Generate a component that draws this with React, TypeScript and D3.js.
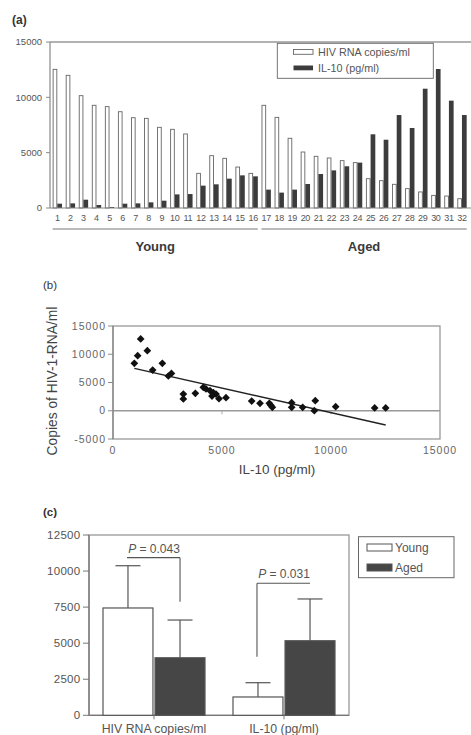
import React from "react";
import * as d3 from "d3";

// ---------- Panel (a) data ----------
const patients = d3.range(1, 33).map(String);
const hivRna = [12530, 11990, 10150, 9280, 9160, 8700, 8160, 8100, 7290, 7110, 6690, 3130, 4730, 4490, 3700, 3130,
  9280, 8190, 6300, 5060, 4670, 4520, 4280, 4100, 2650, 2470, 2140, 1750, 1450, 1140, 1080, 840];
const il10 = [390, 420, 750, 270, 90, 390, 420, 510, 660, 1230, 1260, 2020, 2140, 2650, 2950, 2860,
  1660, 1390, 1660, 2170, 3070, 3400, 3770, 4100, 6660, 6170, 8400, 7230, 10780, 12560, 9700, 8400];
const seriesA = ["HIV RNA copies/ml", "IL-10 (pg/ml)"];
const ticksA = [0, 5000, 10000, 15000];
const groupsA = [
  { name: "Young", from: "1", to: "16" },
  { name: "Aged", from: "17", to: "32" },
];

// ---------- Panel (b) data ----------
const scatterIL10 = [979, 1131, 1270, 1575, 1819, 2263, 2538, 2680, 3226, 3226, 3777, 4144, 4266, 4450, 4602, 4541,
  4725, 4862, 5183, 6361, 6743, 7171, 7240, 7309, 8196, 8196, 8700, 9279, 9234, 10214, 12003, 12508];
const scatterHIV = [8390, 9750, 12700, 10630, 7210, 8390, 6150, 6600, 2960, 2080, 3080, 4150, 3850, 3550, 3200, 2610,
  2960, 2140, 2320, 1720, 1310, 1310, 960, 610, 1430, 610, 610, 1780, 10, 720, 490, 490];
const trendX = [979, 12508];
const trendY = [7510, -2520];
const ticksBX = [0, 5000, 10000, 15000];
const ticksBY = [-5000, 0, 5000, 10000, 15000];

// ---------- Panel (c) data ----------
const categoriesC = ["HIV RNA copies/ml", "IL-10 (pg/ml)"];
const groupsC = ["Young", "Aged"];
const meanYoung = [7440, 1270];
const meanAged = [3990, 5170];
const errYoung = [2930, 990];
const errAged = [2615, 2895];
const ticksC = [0, 2500, 5000, 7500, 10000, 12500];
const pLabels = ["P = 0.043", "P = 0.031"];
const bracketLevel = [10930, 9150];
const bracketDropLeft = [10930, 4060];
const bracketDropRight = [7880, 9150];

const FONT = "'Liberation Sans', Arial, Helvetica, sans-serif";

export default function App() {
  // ----- scales (a)
  const xA = d3.scaleBand<string>().domain(patients).range([50.8, 468.5]).paddingInner(0.28).paddingOuter(0.14);
  const xSub = d3.scaleBand<string>().domain(seriesA).range([0, xA.bandwidth()]);
  const yA = d3.scaleLinear().domain([0, 15000]).range([208, 42]);

  // ----- scales (b)
  const xB = d3.scaleLinear().domain([0, 15000]).range([113, 440]);
  const yB = d3.scaleLinear().domain([-5000, 15000]).range([439, 326]);
  const diamond = d3.symbol().type(d3.symbolSquare).size(30)();
  const trendLine = d3.line<number>().x((d) => xB(trendX[d])).y((d) => yB(trendY[d]));

  // ----- scales (c)
  const xC = d3.scaleBand<string>().domain(categoriesC).range([89, 349]);
  const xCg = d3.scaleBand<string>().domain(groupsC).range([14, 116]).paddingInner(0.04);
  const yC = d3.scaleLinear().domain([0, 12500]).range([715.3, 535]);
  const means = [meanYoung, meanAged];
  const errs = [errYoung, errAged];
  const fills = ["#ffffff", "#464646"];

  return (
    <svg width={471} height={735} style={{ position: "absolute", left: 0, top: 0, background: "#fff" }} fontFamily={FONT}>
      {/* ================= (a) ================= */}
      <text x={12} y={24} fontSize={12} fontWeight="bold" fill="#333">(a)</text>
      <line x1={50} x2={471} y1={yA(15000)} y2={yA(15000)} stroke="#999" strokeWidth={1.5} />
      <line x1={50} x2={50} y1={yA(15000)} y2={yA(0)} stroke="#888" strokeWidth={1.2} />
      {ticksA.map((t) => (
        <g key={t}>
          <line x1={46} x2={50} y1={yA(t)} y2={yA(t)} stroke="#888" />
          <text x={42} y={yA(t)} dy="0.35em" textAnchor="end" fontSize={9.5} fill="#555">{t}</text>
        </g>
      ))}
      {patients.map((p, i) => (
        <g key={p} transform={`translate(${xA(p)},0)`}>
          <rect x={xSub(seriesA[0])! + 0.5} y={yA(hivRna[i])} width={xSub.bandwidth() - 1} height={yA(0) - yA(hivRna[i])}
            fill="#fff" stroke="#666" strokeWidth={0.9} />
          <rect x={xSub(seriesA[1])!} y={yA(il10[i])} width={xSub.bandwidth()} height={yA(0) - yA(il10[i])} fill="#3c3c3c" />
          <text x={xA.bandwidth() / 2} y={220.5} textAnchor="middle" fontSize={9} fill="#555" letterSpacing={-0.3}>{p}</text>
        </g>
      ))}
      <line x1={50} x2={471} y1={yA(0)} y2={yA(0)} stroke="#888" strokeWidth={1.2} />
      {groupsA.map((g) => {
        const x1 = xA(g.from)!;
        const x2 = xA(g.to)! + xA.bandwidth();
        return (
          <g key={g.name}>
            <line x1={x1} x2={x2} y1={229} y2={229} stroke="#777" strokeWidth={1.2} />
            <text x={(x1 + x2) / 2} y={251} textAnchor="middle" fontSize={13} fontWeight="bold" fill="#3a3a3a">{g.name}</text>
          </g>
        );
      })}
      {/* legend (a) */}
      <rect x={277.3} y={43.3} width={156} height={35} fill="#fff" stroke="#666" strokeWidth={0.9} />
      {seriesA.map((s, i) => (
        <g key={s} transform={`translate(0,${i * 16})`}>
          <rect x={293.5} y={49.5} width={19.5} height={4.8} fill={i === 0 ? "#fff" : "#3c3c3c"} stroke={i === 0 ? "#666" : "none"} strokeWidth={0.9} />
          <text x={318} y={55.8} fontSize={10.8} fill="#555">{s}</text>
        </g>
      ))}

      {/* ================= (b) ================= */}
      <text x={43} y={289} fontSize={11.5} fill="#333">(b)</text>
      <rect x={xB(0)} y={yB(15000)} width={xB(15000) - xB(0)} height={yB(-5000) - yB(15000)} fill="none" stroke="#999" strokeWidth={1.3} />
      <line x1={xB(0)} x2={xB(15000)} y1={yB(0)} y2={yB(0)} stroke="#999" strokeWidth={1.3} />
      <line x1={xB(0)} x2={xB(0)} y1={yB(15000)} y2={yB(-5000)} stroke="#888" strokeWidth={1.3} />
      {ticksBY.map((t) => (
        <g key={t}>
          <line x1={108} x2={113} y1={yB(t)} y2={yB(t)} stroke="#888" />
          <text x={106} y={yB(t)} dy="0.35em" textAnchor="end" fontSize={10.5} letterSpacing={1} fill="#666">{t}</text>
        </g>
      ))}
      {ticksBX.map((t) => (
        <g key={t}>
          {t > 0 && t < 15000 && <line x1={xB(t)} x2={xB(t)} y1={yB(0)} y2={yB(0) + 3.5} stroke="#aaa" />}
          <text x={xB(t)} y={453.5} textAnchor="middle" fontSize={10.5} letterSpacing={1} fill="#666">{t}</text>
        </g>
      ))}
      <path d={trendLine([0, 1]) || ""} fill="none" stroke="#222" strokeWidth={1.4} />
      {scatterIL10.map((v, i) => (
        <path key={i} d={diamond || ""} transform={`translate(${xB(v)},${yB(scatterHIV[i])}) rotate(45)`} fill="#111" />
      ))}
      <text x={277} y={474} textAnchor="middle" fontSize={13.5} fill="#444">IL-10 (pg/ml)</text>
      <text transform="translate(56.5,381) rotate(-90)" textAnchor="middle" fontSize={13.8} fill="#444">Copies of HIV-1-RNA/ml</text>

      {/* ================= (c) ================= */}
      <text x={43} y={516} fontSize={11.5} fontWeight="bold" fill="#333">(c)</text>
      <rect x={89} y={yC(12500)} width={260} height={yC(0) - yC(12500)} fill="none" stroke="#999" strokeWidth={1.3} />
      <line x1={89} x2={89} y1={yC(12500)} y2={yC(0)} stroke="#777" strokeWidth={1.3} />
      <line x1={89} x2={349} y1={yC(0)} y2={yC(0)} stroke="#777" strokeWidth={1.3} />
      {ticksC.map((t) => (
        <g key={t}>
          <line x1={83} x2={89} y1={yC(t)} y2={yC(t)} stroke="#777" />
          <text x={80.5} y={yC(t)} dy="0.35em" textAnchor="end" fontSize={11.5} letterSpacing={0.3} fill="#555">{t}</text>
        </g>
      ))}
      {categoriesC.map((c, ci) => {
        const cx = xC(c)! + xC.bandwidth() / 2;
        return (
          <g key={c}>
            <line x1={cx} x2={cx} y1={yC(0)} y2={yC(0) + 4} stroke="#777" />
            <text x={cx} y={733} textAnchor="middle" fontSize={12.3} fill="#555">{c}</text>
            {groupsC.map((g, gi) => {
              const x0 = xC(c)! + xCg(g)!;
              const bw = xCg.bandwidth();
              const m = means[gi][ci];
              const top = m + errs[gi][ci];
              return (
                <g key={g}>
                  <line x1={x0 + bw / 2} x2={x0 + bw / 2} y1={yC(m)} y2={yC(top)} stroke="#555" strokeWidth={1.2} />
                  <line x1={x0 + bw / 4} x2={x0 + (3 * bw) / 4} y1={yC(top)} y2={yC(top)} stroke="#555" strokeWidth={1.2} />
                  <rect x={x0} y={yC(m)} width={bw} height={yC(0) - yC(m)} fill={fills[gi]} stroke="#555" strokeWidth={1.2} />
                </g>
              );
            })}
            {(() => {
              const xl = xC(c)! + xCg("Young")! + xCg.bandwidth() / 2;
              const xr = xC(c)! + xCg("Aged")! + xCg.bandwidth() / 2;
              return (
                <g>
                  <line x1={xl - 1} x2={xr} y1={yC(bracketLevel[ci])} y2={yC(bracketLevel[ci])} stroke="#555" strokeWidth={1.1} />
                  <line x1={xl - 1} x2={xl - 1} y1={yC(bracketLevel[ci])} y2={yC(bracketDropLeft[ci])} stroke="#555" strokeWidth={1.1} />
                  <line x1={xr} x2={xr} y1={yC(bracketLevel[ci])} y2={yC(bracketDropRight[ci])} stroke="#555" strokeWidth={1.1} />
                  <text x={(xl + xr) / 2} y={yC(bracketLevel[ci]) - 5} textAnchor="middle" fontSize={12} fill="#555">
                    <tspan fontStyle="italic">{pLabels[ci].slice(0, 1)}</tspan>
                    {pLabels[ci].slice(1)}
                  </text>
                </g>
              );
            })()}
          </g>
        );
      })}
      {/* legend (c) */}
      <rect x={358.5} y={536.7} width={95.5} height={41} fill="#fff" stroke="#666" strokeWidth={1} />
      {groupsC.map((g, i) => (
        <g key={g} transform={`translate(0,${i * 20})`}>
          <rect x={367} y={544} width={25} height={7} fill={fills[i]} stroke="#555" strokeWidth={1} />
          <text x={395} y={551.5} fontSize={12} fill="#555">{g}</text>
        </g>
      ))}
    </svg>
  );
}
